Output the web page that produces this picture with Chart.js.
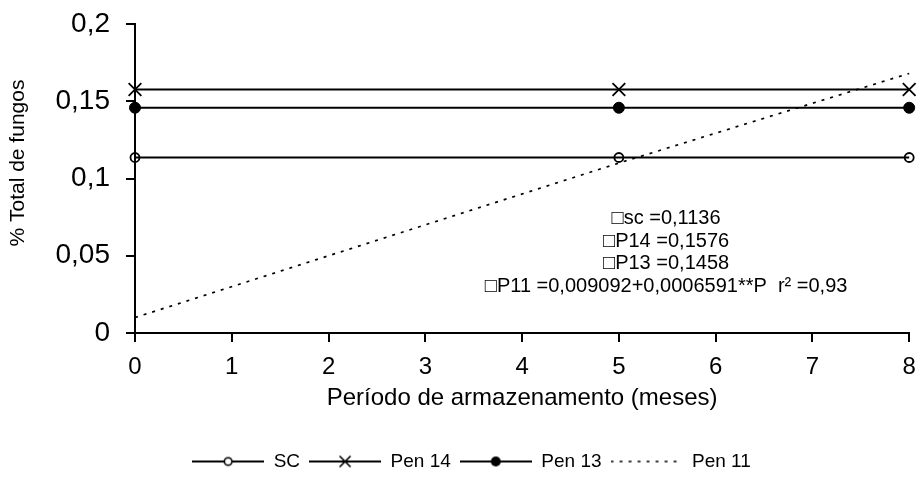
<!DOCTYPE html>
<html>
<head>
<meta charset="utf-8">
<script src="https://cdn.jsdelivr.net/npm/chart.js@4"></script>
<style>
  html, body { margin: 0; padding: 0; background: #fff; }
  canvas { display: block; }
</style>
</head>
<body>
<canvas id="fungosChart" width="920" height="489"></canvas>
<script>
// data
var months = [0, 5, 8];
var scValues = [0.1136, 0.1136, 0.1136];
var pen14Values = [0.1576, 0.1576, 0.1576];
var pen13Values = [0.1458, 0.1458, 0.1458];
var pen11Months = [0, 5, 8];
var pen11Values = [0.010, 0.110, 0.168];

var seriesNames = ['SC', 'Pen 14', 'Pen 13', 'Pen 11'];
var yTickValues = [0, 0.05, 0.1, 0.15, 0.2];
var yTickLabels = ['0', '0,05', '0,1', '0,15', '0,2'];

var yTitle = '% Total de fungos';
var xTitle = 'Período de armazenamento (meses)';
var equationLines = [
    '\u25A1sc =0,1136',
    '\u25A1P14 =0,1576',
    '\u25A1P13 =0,1458',
    '\u25A1P11 =0,009092+0,0006591**P  r\u00B2 =0,93'
];

var fontName = '"Liberation Sans", Arial, sans-serif';

function toPoints(xs, ys) {
    return xs.map(function (x, i) { return { x: x, y: ys[i] }; });
}

// small pictures for the legend: line with the marker in the middle
function legendSample(kind) {
    var c = document.createElement('canvas');
    c.width = 72;
    c.height = 14;
    var g = c.getContext('2d');
    g.strokeStyle = '#000';
    g.fillStyle = '#000';
    g.lineWidth = 2;
    if (kind === 'dotted') {
        g.setLineDash([3, 6]);
        g.lineWidth = 1.6;
    }
    g.beginPath();
    g.moveTo(0, 7);
    g.lineTo(72, 7);
    g.stroke();
    g.setLineDash([]);
    g.lineWidth = 1.6;
    if (kind === 'open') {
        g.beginPath();
        g.arc(36, 7, 3.8, 0, Math.PI * 2);
        g.fillStyle = '#fff';
        g.fill();
        g.stroke();
    } else if (kind === 'cross') {
        g.beginPath();
        g.moveTo(30.5, 1.5); g.lineTo(41.5, 12.5);
        g.moveTo(41.5, 1.5); g.lineTo(30.5, 12.5);
        g.stroke();
    } else if (kind === 'filled') {
        g.beginPath();
        g.arc(36, 7, 5, 0, Math.PI * 2);
        g.fill();
    }
    return c;
}

var legendImages = [legendSample('open'), legendSample('cross'), legendSample('filled'), legendSample('dotted')];

var textPlugin = {
    id: 'extraText',
    afterLayout: function (chart) {
        // the legend row sits a bit right of the canvas centre
        chart.legend.left += 30;
    },
    afterDraw: function (chart) {
        var a = chart.chartArea;
        var g = chart.ctx;
        g.save();
        g.fillStyle = '#000';

        // y axis title, a little above the middle of the axis
        g.font = '21px ' + fontName;
        g.textAlign = 'center';
        g.textBaseline = 'middle';
        g.translate(18, a.top + (a.bottom - a.top) * 0.45);
        g.rotate(-Math.PI / 2);
        g.fillText(yTitle, 0, 0);
        g.setTransform(1, 0, 0, 1, 0, 0);

        var cx = a.left + (a.right - a.left) * 0.686;
        var y0 = a.top + (a.bottom - a.top) * 0.63;
        g.font = '20px ' + fontName;
        equationLines.forEach(function (t, i) {
            g.fillText(t, cx, y0 + i * 22.5);
        });
        g.restore();
    }
};

var ctx = document.getElementById('fungosChart').getContext('2d');
var fungosChart = new Chart(ctx, {
    type: 'line',
    data: {
        datasets: [
            {
                label: seriesNames[0],
                data: toPoints(months, scValues),
                borderColor: '#000',
                borderWidth: 2,
                pointStyle: 'circle',
                pointRadius: 4.5,
                pointBorderWidth: 1.8,
                pointBackgroundColor: 'rgba(0,0,0,0)',
                pointBorderColor: '#000',
                clip: false
            },
            {
                label: seriesNames[1],
                data: toPoints(months, pen14Values),
                borderColor: '#000',
                borderWidth: 2,
                pointStyle: 'crossRot',
                pointRadius: 9,
                pointBorderWidth: 1.8,
                pointBorderColor: '#000',
                clip: false
            },
            {
                label: seriesNames[2],
                data: toPoints(months, pen13Values),
                borderColor: '#000',
                borderWidth: 2,
                pointStyle: 'circle',
                pointRadius: 5.5,
                pointBorderWidth: 1,
                pointBackgroundColor: '#000',
                pointBorderColor: '#000',
                clip: false
            },
            {
                label: seriesNames[3],
                data: toPoints(pen11Months, pen11Values),
                borderColor: '#000',
                borderWidth: 1.7,
                borderDash: [3, 6],
                pointRadius: 0,
                clip: false
            }
        ]
    },
    options: {
        responsive: false,
        animation: false,
        devicePixelRatio: 1,
        layout: { padding: { top: 24, right: 7, left: 0, bottom: 8 } },
        elements: { line: { tension: 0 } },
        scales: {
            x: {
                type: 'linear',
                min: 0,
                max: 8,
                border: { display: true, color: '#000', width: 2 },
                grid: { drawOnChartArea: false, color: '#000', lineWidth: 2, tickLength: 9 },
                ticks: {
                    stepSize: 1,
                    color: '#000',
                    padding: 11,
                    font: { family: fontName, size: 24 }
                },
                title: {
                    display: true,
                    text: xTitle,
                    color: '#000',
                    font: { family: fontName, size: 24 },
                    padding: { top: 0, bottom: 30 }
                },
                afterFit: function (scale) {
                    scale.height = 110;
                    scale.paddingLeft = 0;
                    scale.paddingRight = 0;
                }
            },
            y: {
                min: 0,
                max: 0.2,
                border: { display: true, color: '#000', width: 2 },
                grid: { drawOnChartArea: false, color: '#000', lineWidth: 2, tickLength: 9 },
                afterBuildTicks: function (scale) {
                    scale.ticks = yTickValues.map(function (v) { return { value: v }; });
                },
                ticks: {
                    color: '#000',
                    padding: 16,
                    font: { family: fontName, size: 28 },
                    callback: function (value) {
                        var i = yTickValues.indexOf(value);
                        return i >= 0 ? yTickLabels[i] : '';
                    }
                },
                title: { display: false },
                afterFit: function (scale) {
                    scale.width = 135;
                    scale.paddingTop = 0;
                    scale.paddingBottom = 0;
                }
            }
        },
        plugins: {
            tooltip: { enabled: false },
            legend: {
                position: 'bottom',
                labels: {
                    color: '#000',
                    font: { family: fontName, size: 19 },
                    usePointStyle: true,
                    pointStyleWidth: 72,
                    padding: 9,
                    generateLabels: function (chart) {
                        return seriesNames.map(function (name, i) {
                            return {
                                text: name,
                                pointStyle: legendImages[i],
                                fillStyle: '#000',
                                strokeStyle: '#000',
                                lineWidth: 0,
                                hidden: false,
                                datasetIndex: i
                            };
                        });
                    }
                }
            }
        }
    },
    plugins: [textPlugin]
});
</script>
</body>
</html>
